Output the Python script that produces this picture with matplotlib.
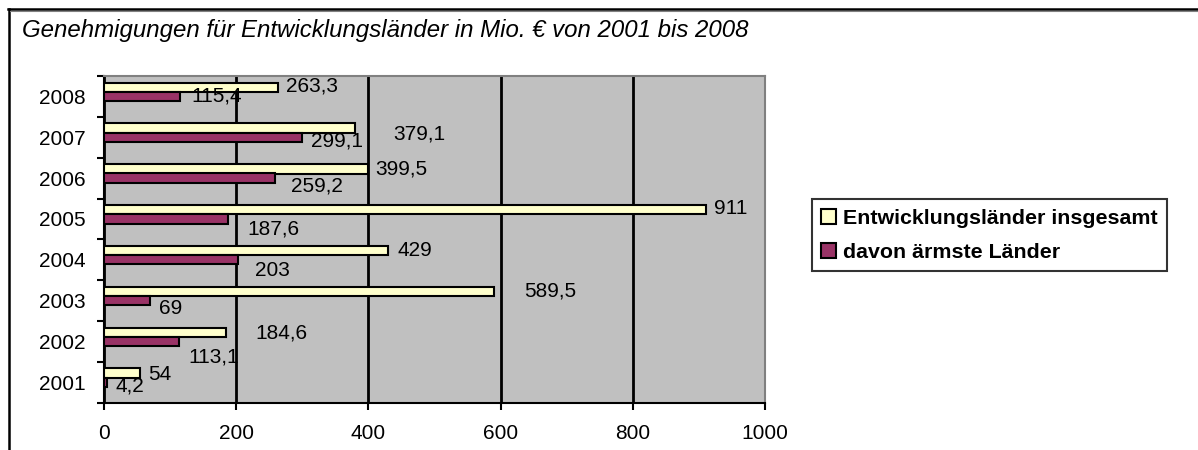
import numpy as np
import matplotlib
matplotlib.use("Agg")
import matplotlib.pyplot as plt
from matplotlib.lines import Line2D

plt.rcParams['font.family'] = ['Liberation Sans', 'DejaVu Sans']

years = ['2001', '2002', '2003', '2004', '2005', '2006', '2007', '2008']
total = [54, 184.6, 589.5, 429, 911, 399.5, 379.1, 263.3]
poorest = [4.2, 113.1, 69, 203, 187.6, 259.2, 299.1, 115.4]

label_total = 'Entwicklungsländer insgesamt'
label_poorest = 'davon ärmste Länder'
title = 'Genehmigungen für Entwicklungsländer in Mio. € von 2001 bis 2008'

# label offsets in pixels (Excel placed them a bit randomly)
total_dx = [8, 29, 30, 10, 8, 7, 39, 8]
total_dy = [1, 1, 0, 0, -1, 0, 6, -1]
poorest_dx = [9, 10, 9, 17, 19, 16, 9, 11]
poorest_dy = [4, 16, 8, 11, 10, 8, 4, 0]

W, H = 1198, 450
fig = plt.figure(figsize=(W / 100, H / 100), dpi=100)
ax = fig.add_axes([104 / W, 1 - 402.7 / H, (765 - 104) / W, (402.7 - 76) / H])

y = np.arange(len(years))
h = 0.23
b1 = ax.barh(y + 0.225, total, height=h, color='#FFFFCC', edgecolor='black',
             linewidth=1.5, label=label_total, zorder=3)
b2 = ax.barh(y, poorest, height=h, color='#993366', edgecolor='black',
             linewidth=1.5, label=label_poorest, zorder=3)

def fmt(v):
    return f"{v:g}".replace('.', ',')

for i in range(len(years)):
    ax.annotate(fmt(total[i]), (total[i], y[i] + 0.225),
                xytext=(total_dx[i], -total_dy[i]), textcoords='offset pixels',
                ha='left', va='center', fontsize=15, zorder=4)
    ax.annotate(fmt(poorest[i]), (poorest[i], y[i]),
                xytext=(poorest_dx[i], -poorest_dy[i]), textcoords='offset pixels',
                ha='left', va='center', fontsize=15, zorder=4)

ax.set_facecolor('#C0C0C0')
ax.set_xlim(0, 1000)
ax.set_ylim(-0.5, len(years) - 0.5)
ax.set_xticks([0, 200, 400, 600, 800, 1000])
ax.xaxis.grid(True, color='black', linewidth=2)
ax.set_axisbelow(True)
ax.tick_params(axis='x', direction='out', length=5, width=1.5, pad=10, labelsize=15)

ax.set_yticks(np.arange(-0.5, len(years), 1.0))
ax.set_yticklabels([])
ax.set_yticks(y, minor=True)
ax.set_yticklabels(years, minor=True, fontsize=15)
ax.tick_params(axis='y', which='major', direction='out', length=5, width=1.5)
ax.tick_params(axis='y', which='minor', length=0, pad=13)

ax.spines['left'].set_linewidth(1.5)
ax.spines['bottom'].set_linewidth(1.5)
for s in ['top', 'right']:
    ax.spines[s].set_color('#808080')
    ax.spines[s].set_linewidth(1.5)

leg = fig.legend(handles=[b1, b2], loc='upper left',
                 bbox_to_anchor=(811.7 / W, 1 - 199 / H),
                 prop={'weight': 'bold', 'size': 15.4}, frameon=True,
                 fancybox=False, handlelength=0.7, handleheight=0.7,
                 handletextpad=0.3, borderpad=0.45, labelspacing=0.7,
                 borderaxespad=0)
leg.get_frame().set_edgecolor('black')
leg.get_frame().set_linewidth(1.5)

fig.text(22 / W, 1 - 36.7 / H, title, fontsize=17.3, style='italic',
         ha='left', va='baseline')

# outer chart frame (only left and top edges are visible)
fig.add_artist(Line2D([9 / W, 9 / W], [0, 1 - 8.5 / H], color='black', linewidth=1.8))
fig.add_artist(Line2D([8 / W, 1], [1 - 8.5 / H, 1 - 8.5 / H], color='black', linewidth=1.8))
fig.add_artist(Line2D([10 / W, 1], [1 - 10.5 / H, 1 - 10.5 / H], color='#808080', linewidth=0.8))

fig.savefig('out.png', dpi=100)
